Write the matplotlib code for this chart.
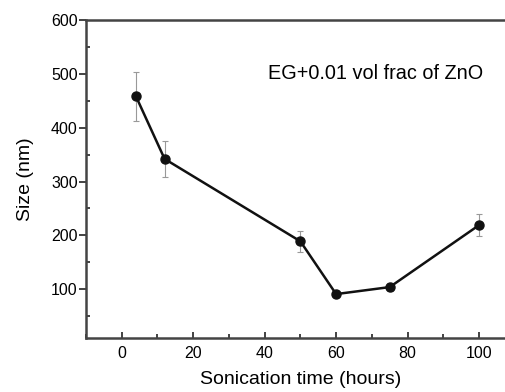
import matplotlib
matplotlib.use("Agg")
import matplotlib.pyplot as plt
from matplotlib.ticker import MultipleLocator

plt.rcParams['font.family'] = ['Liberation Sans', 'DejaVu Sans']

# data
time_h = [4, 12, 50, 60, 75, 100]
size_nm = [458, 342, 189, 91, 104, 219]
size_err = [46, 34, 19, 5, 8, 21]
label_text = "EG+0.01 vol frac of ZnO"

fig = plt.figure(figsize=(5.05, 3.92), dpi=100)
ax = fig.add_axes([0.1703, 0.1385, 0.849, 0.8105])

ax.errorbar(time_h, size_nm, yerr=size_err, color='#111111', lw=1.8,
            marker='o', ms=6.5, ecolor='#999999', elinewidth=0.8,
            capsize=2, capthick=0.8)

ax.set_xlim(-10, 110)
ax.set_ylim(10, 600)
ax.xaxis.set_major_locator(MultipleLocator(20))
ax.xaxis.set_minor_locator(MultipleLocator(10))
ax.yaxis.set_major_locator(MultipleLocator(100))
ax.yaxis.set_minor_locator(MultipleLocator(50))
ax.set_yticks([100, 200, 300, 400, 500, 600])

for s in ax.spines.values():
    s.set_linewidth(1.8)
    s.set_color('#444444')
ax.spines['right'].set_visible(False)

ax.tick_params(axis='x', which='both', direction='in', labelsize=11.5,
               pad=6, color='#222222')
ax.tick_params(axis='x', which='major', length=4, width=1.2)
ax.tick_params(axis='x', which='minor', length=3, width=1.2)
ax.tick_params(axis='y', which='major', direction='out', length=5,
               width=1.2, labelsize=11.5, pad=1, color='#222222')
ax.tick_params(axis='y', which='minor', direction='in', length=3,
               width=1.2, color='#222222')

ax.set_xlabel("Sonication time (hours)", fontsize=14, labelpad=7)
ax.set_ylabel("Size (nm)", fontsize=14, labelpad=12)

ax.text(0.675, 0.833, label_text, transform=ax.transAxes, fontsize=14.3,
        va='center', ha='center')

fig.savefig("out.png", dpi=100)
